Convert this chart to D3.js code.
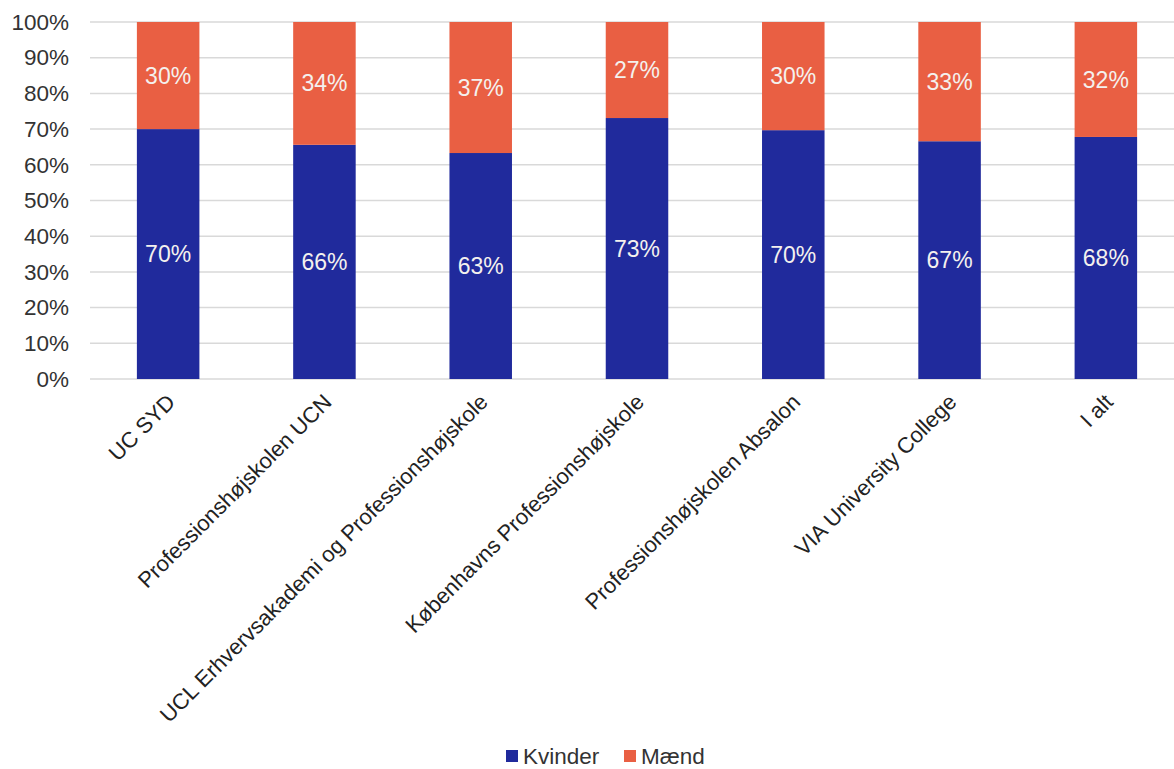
<!DOCTYPE html>
<html>
<head>
<meta charset="utf-8">
<script src="https://cdn.jsdelivr.net/npm/d3@7"></script>
<style>
  body { margin: 0; background: #fff; }
  text { font-family: "Liberation Sans", Arial, sans-serif; }
</style>
</head>
<body>
<div id="chart"></div>
<script>
// Data:
var categories = ["UC SYD", "Professionshøjskolen UCN", "UCL Erhvervsakademi og Professionshøjskole",
  "Københavns Professionshøjskole", "Professionshøjskolen Absalon", "VIA University College", "I alt"];
var kvinder = [70.0, 65.6, 63.3, 73.1, 69.7, 66.6, 67.8];
var maend = [30.0, 34.4, 36.7, 26.9, 30.3, 33.4, 32.2];
var seriesNames = ["Kvinder", "Mænd"];
var yTicks = [0, 10, 20, 30, 40, 50, 60, 70, 80, 90, 100];

var colors = { "Kvinder": "#202a9c", "Mænd": "#e95f43" };

var W = 1174, H = 769;
var margin = { top: 22, right: -10, bottom: 390, left: 90 };
var width = W - margin.left - margin.right,
  height = H - margin.top - margin.bottom;

var svg = d3.select("#chart").append("svg")
  .attr("width", W).attr("height", H);
var g = svg.append("g")
  .attr("transform", "translate(" + margin.left + "," + margin.top + ")");

var x = d3.scaleBand().domain(categories).range([0, width]).paddingInner(0.6).paddingOuter(0.3);
var y = d3.scaleLinear().domain([0, 100]).range([height, 0]);

// gridlines
g.selectAll("line.grid").data(yTicks).enter().append("line")
  .attr("class", "grid")
  .attr("x1", 0).attr("x2", width)
  .attr("y1", function(d) { return y(d); }).attr("y2", function(d) { return y(d); })
  .attr("stroke", "#d9d9d9").attr("stroke-width", 1.5);

// y axis labels
var yAxis = d3.axisLeft(y).tickValues(yTicks).tickSize(0).tickPadding(21)
  .tickFormat(function(d) { return d + "%"; });
g.append("g").call(yAxis)
  .call(function(a) { a.select(".domain").remove(); })
  .selectAll("text")
  .attr("font-size", 22.5).attr("fill", "#333")
  .attr("font-family", "Liberation Sans, Arial, sans-serif");

// stacked data
var rows = categories.map(function(c, i) { return { cat: c, Kvinder: kvinder[i], "Mænd": maend[i] }; });
var stack = d3.stack().keys(seriesNames)(rows);

var layers = g.selectAll("g.layer").data(stack).enter().append("g")
  .attr("class", "layer")
  .attr("fill", function(d) { return colors[d.key]; });

layers.selectAll("rect").data(function(d) { return d; }).enter().append("rect")
  .attr("x", function(d) { return x(d.data.cat); })
  .attr("width", x.bandwidth())
  .attr("y", function(d) { return y(d[1]); })
  .attr("height", function(d) { return y(d[0]) - y(d[1]); });

layers.selectAll("text").data(function(d) { return d; }).enter().append("text")
  .attr("x", function(d) { return x(d.data.cat) + x.bandwidth() / 2; })
  .attr("y", function(d) { return (y(d[0]) + y(d[1])) / 2; })
  .attr("dy", "0.35em")
  .attr("text-anchor", "middle")
  .attr("font-size", 23)
  .attr("fill", "#f4f1ee")
  .text(function(d) { return Math.round(d[1] - d[0]) + "%"; });

// x category labels, rotated
g.selectAll("text.cat").data(categories).enter().append("text")
  .attr("class", "cat")
  .attr("transform", function(d) {
    return "translate(" + (x(d) + x.bandwidth() / 2 + 3) + "," + (height + 19) + ") rotate(-45)";
  })
  .attr("text-anchor", "end")
  .attr("dy", "0.35em")
  .attr("font-size", 22)
  .attr("fill", "#222")
  .text(function(d) { return d; });

// legend
var legend = svg.append("g").attr("transform", "translate(506,756)");
var items = legend.selectAll("g").data(seriesNames).enter().append("g")
  .attr("transform", function(d, i) { return "translate(" + (i * 118) + ",0)"; });
items.append("rect")
  .attr("x", 0).attr("y", -6).attr("width", 12).attr("height", 12)
  .attr("fill", function(d) { return colors[d]; });
items.append("text")
  .attr("x", 17).attr("dy", "0.36em")
  .attr("font-size", 22.5).attr("fill", "#333")
  .text(function(d) { return d; });
</script>
</body>
</html>
